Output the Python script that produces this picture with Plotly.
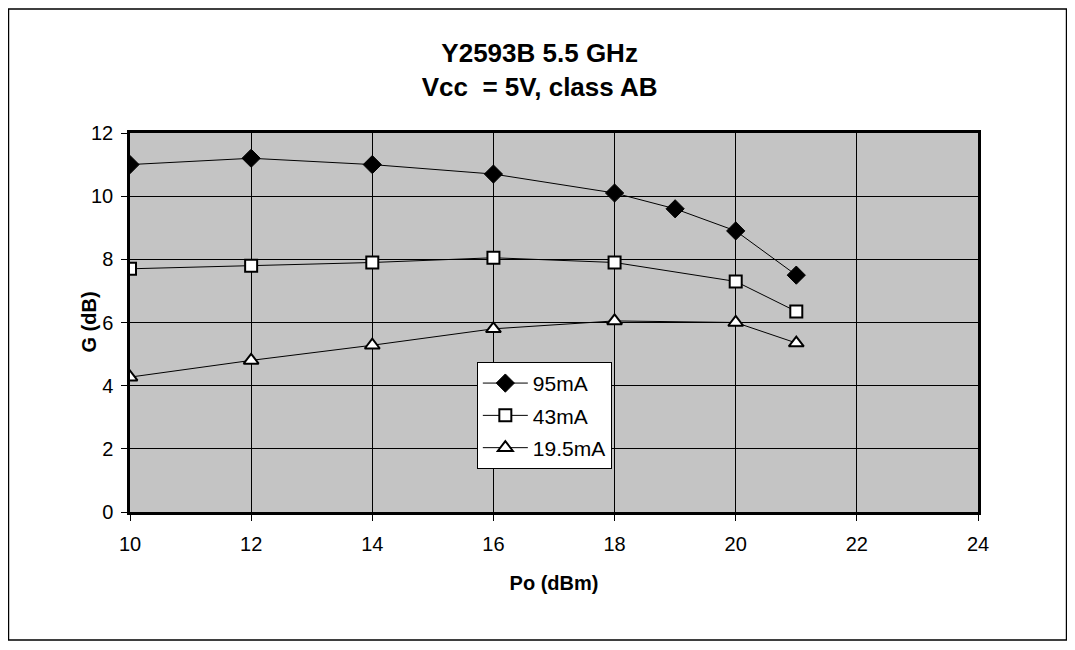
import plotly.graph_objects as go

po_95 = [10, 12, 14, 16, 18, 19, 20, 21]
g_95 = [11.0, 11.2, 11.0, 10.7, 10.1, 9.6, 8.9, 7.5]
po_43 = [10, 12, 14, 16, 18, 20, 21]
g_43 = [7.7, 7.8, 7.9, 8.05, 7.9, 7.3, 6.35]
po_19 = [10, 12, 14, 16, 18, 20, 21]
g_19 = [4.27, 4.8, 5.28, 5.8, 6.05, 6.0, 5.35]

FONT = "Liberation Sans, Arial, sans-serif"

fig = go.Figure()
fig.add_trace(go.Scatter(x=po_95, y=g_95, mode="lines+markers", name="95mA",
                         legendgroup="a",
                         line=dict(color="black", width=1),
                         marker=dict(symbol="diamond", size=14, color="black",
                                     line=dict(color="black", width=1))))
fig.add_trace(go.Scatter(x=po_43, y=g_43, mode="lines+markers", name="43mA",
                         legendgroup="b",
                         line=dict(color="black", width=1),
                         marker=dict(symbol="square", size=12, color="white",
                                     line=dict(color="black", width=2))))
fig.add_trace(go.Scatter(x=po_19, y=g_19, mode="lines+markers", name="19.5mA",
                         legendgroup="c",
                         line=dict(color="black", width=1),
                         marker=dict(symbol="triangle-up", size=13, color="white",
                                     line=dict(color="black", width=2))))

fig.update_layout(
    width=1059, height=634,
    margin=dict(l=122, r=89, t=125, b=130),
    paper_bgcolor="white",
    plot_bgcolor="#c4c4c4",
    font=dict(family=FONT, size=20, color="black"),
    title=dict(text="<b>Y2593B 5.5 GHz<br>Vcc  = 5V, class AB</b>",
               x=0.502, xanchor="center", y=0.9148, yanchor="middle",
               font=dict(family=FONT, size=26, color="black")),
    showlegend=True,
    legend=dict(x=0.409, y=0.396, xanchor="left", yanchor="top",
                bgcolor="white", bordercolor="black", borderwidth=1,
                font=dict(family=FONT, size=21, color="black"),
                itemwidth=45, tracegroupgap=2),
    shapes=[dict(type="rect", xref="paper", yref="paper",
                 x0=-0.1433, x1=1.1044, y0=-0.3377, y1=1.3272,
                 line=dict(color="black", width=1.5), layer="below")],
    annotations=[dict(text="<b>G (dB)</b>", xref="paper", yref="paper",
                      x=-0.0495, y=0.5, xanchor="center", yanchor="middle",
                      textangle=-90, showarrow=False,
                      font=dict(family=FONT, size=20, color="black"))],
)
fig.update_xaxes(range=[10, 24], dtick=2, tick0=10,
                 showgrid=True, gridcolor="black", gridwidth=1,
                 showline=True, linecolor="black", linewidth=2.5, mirror=True,
                 ticks="outside", ticklen=6, tickcolor="black",
                 ticklabelstandoff=6,
                 zeroline=False,
                 title=dict(text="<b>Po (dBm)</b>", font=dict(family=FONT, size=20), standoff=23),
                 tickfont=dict(family=FONT, size=20))
fig.update_yaxes(range=[0, 12], dtick=2, tick0=0,
                 showgrid=True, gridcolor="black", gridwidth=1,
                 showline=True, linecolor="black", linewidth=2.5, mirror=True,
                 ticks="outside", ticklen=6, tickcolor="black",
                 ticklabelstandoff=4,
                 zeroline=False,
                 tickfont=dict(family=FONT, size=20))

fig.write_html("out.html")
